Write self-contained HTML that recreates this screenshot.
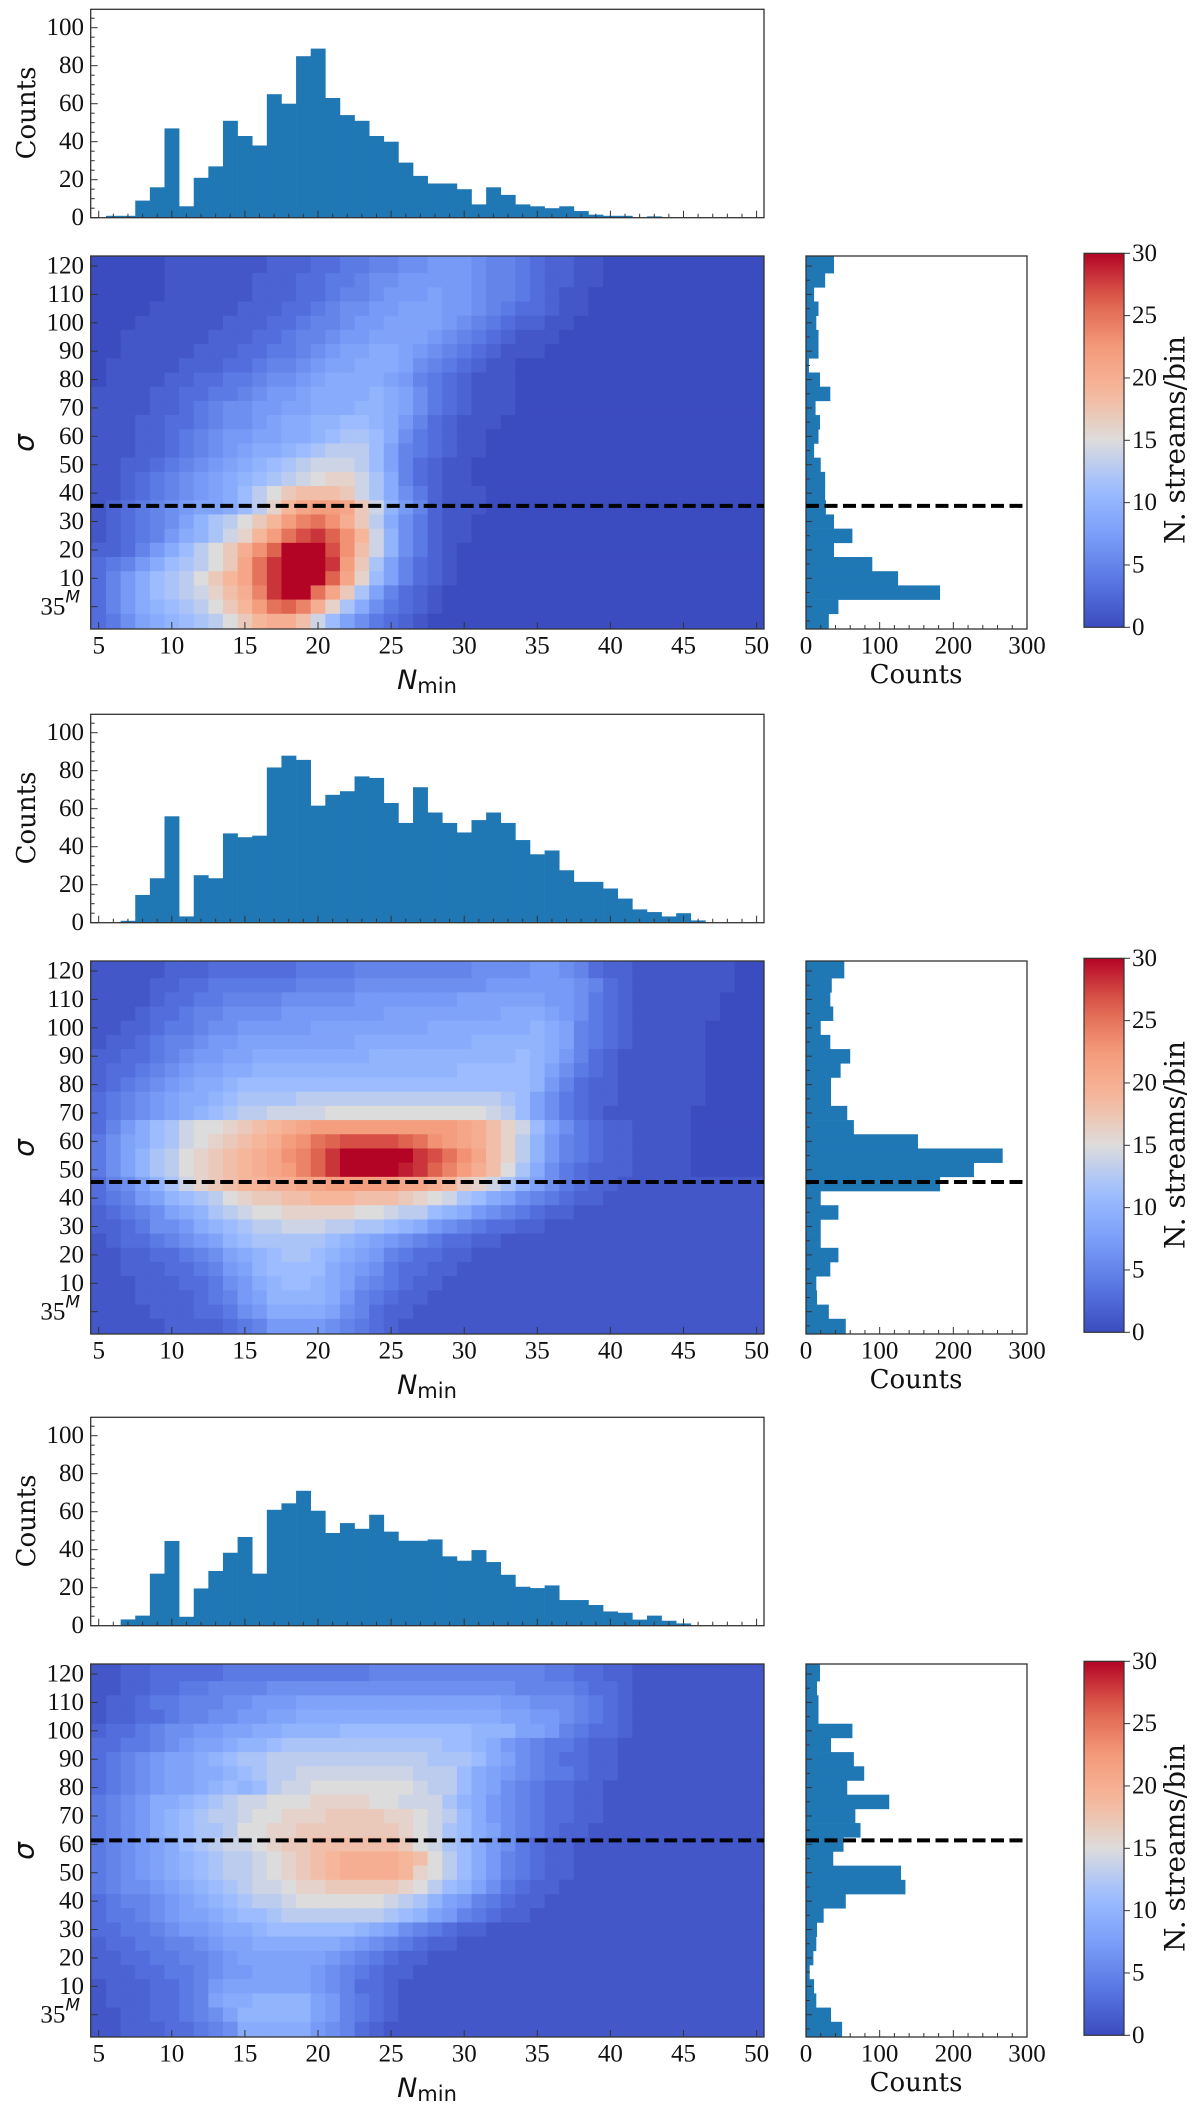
<!DOCTYPE html>
<html><head><meta charset="utf-8"><style>
html,body{margin:0;padding:0;background:#fff;}
svg{display:block;}
</style></head><body>
<svg id="fig" width="1200" height="2108" viewBox="0 0 1200 2108" xmlns="http://www.w3.org/2000/svg"></svg>
<script>
// ---------- DATA ----------
const nValues = [5,6,7,8,9,10,11,12,13,14,15,16,17,18,19,20,21,22,23,24,25,26,27,28,29,30,31,32,33,34,35,36,37,38,39,40,41,42,43,44,45,46,47,48,49,50];
const sigmaRows = [120,115,110,105,100,95,90,85,80,75,70,65,60,55,50,45,40,35,30,25,20,15,10,5,0,-5];
const yTickValues = [120,110,100,90,80,70,60,50,40,30,20,10,0];
const yTickLabels = ["120","110","100","90","80","70","60","50","40","30","20","10","35M"];
const xTickValues = [5,10,15,20,25,30,35,40,45,50];
const countTicks = [0,20,40,60,80,100];
const sideTicks = [0,100,200,300];
const cbarTicks = [0,5,10,15,20,25,30];

const topCounts1 = [0,1,1,9,16,47,6,21,27,51,43,38,65,60,85,89,63,54,51,43,40,29,22,18,18,15,7,16,12,7,6,5,6,3.5,1.6,1,1,0,0.7,0,0,0,0,0,0,0];
const topCounts2 = [0,0,1,14.6,23.4,56,3.3,25,23.4,47,45,45.8,81.7,87.9,85.7,61.6,67.3,69.2,77,76.2,63,52.5,71.3,58,52.5,47.5,54,58,52.5,43.5,36,38,27.6,21.5,21.5,18,12.7,7,5.6,3.3,5,1.2,0,0,0,0];
const topCounts3 = [0,0,3.3,5.3,27.4,44.6,4.7,19.6,28.8,38.4,46.7,27.4,61,64.4,71,60.5,48.8,54,51,58.4,49.5,44.7,44.7,45.4,36.5,34.2,39.8,33.5,26.8,20.5,19.8,21.2,13.5,13.5,10.9,7.5,6.8,3.2,5.3,2.6,1.2,0,0,0,0,0];

const sideCounts1 = [38,26,11,17,14,17,17,4,19,33,13,19,17,11,20,26,26,27,38,63,38,90,125,182,44,31];
const sideCounts2 = [52,35,33,37,20,33,60,47,34,34,56,65,152,267,228,182,20,44,20,20,44,33,14,15,31,54];
const sideCounts3 = [19,15,17,17,63,34,65,79,56,113,67,74,51,37,129,135,54,24,15,14,10,5,11,14,34,49];

const sigmaCut1 = 35.5;
const sigmaCut2 = 45.7;
const sigmaCut3 = 61.4;

// heatmap rows (sigma 120 -> -5), columns N=5..50, base-36 digits (0..30)
const heat1 = [
"0000011111 1122233445 5667776554 3221100000 000000",
"0000011111 1222334456 6777776554 3221100000 000000",
"0000011111 1222334556 7778776554 3211000000 000000",
"0000111111 2223345667 7888776543 3211000000 000000",
"0001111112 2233455677 8888765432 2110000000 000000",
"0011111122 2334556778 8887654321 1100000000 000000",
"0011111222 3344567889 9876543211 1000000000 000000",
"0111112223 3455678899 9865432110 0000000000 000000",
"0111122334 4566789999 8754321110 0000000000 000000",
"1111223344 567789999a 9864321110 0000000000 000000",
"1111223456 67788999aa 9864321110 0000000000 000000",
"1112233456 67899aabba 9753211100 0000000000 000000",
"1112234567 78899abccb 9643211000 0000000000 000000",
"1112234567 899abcdddb 8543211000 0000000000 000000",
"1122345678 9abcdeeedb 8532110000 0000000000 000000",
"1123456789 abcdefggec 9532110000 0000000000 000000",
"1123456789 bdfhiiihec 9642111000 0000000000 000000",
"1234567889 bdgjlmmlhe a752111000 0000000000 000000",
"1234568acd fhjmopnkhd 9642110000 0000000000 000000",
"1234579ace gjmprsqnje a642110000 0000000000 000000",
"223579bdfh knquuurnie a642100000 0000000000 000000",
"34579bcdfh lpsuuusmhc 8532100000 0000000000 000000",
"3579bcdfhj lpsuuuqlgb 8532100000 0000000000 000000",
"3579bcdegi kosuuplhc8 5321000000 0000000000 000000",
"3579abcdfh jmpqokgc96 4321000000 0000000000 000000",
"34689abcdf hjkkieb864 3210000000 0000000000 000000"
];
const heat2 = [
"1111122233 3333444455 5555556666 7765322111 111100",
"1111223344 4444555566 6666666777 7776532111 111100",
"1111233445 5556666677 7777788888 8776432111 111000",
"1112334556 6667777777 8888888899 9876432111 111000",
"1122344566 7777788888 8889999999 a985432111 110000",
"1223455677 8888888899 999999aaaa a985432111 110000",
"2233456778 899999999a aaaaaaaaab a975321111 110000",
"2334567889 9aaaaaaaaa aaaaabbbbb a864321111 110000",
"234567899a bbbbbbbbbb bbbbbbbbbb a753221111 110000",
"34567899ab ccccdddddd ddddddddcb 8643221111 110000",
"3456789abc ddeeeeffff fffffffedb 8643211111 100000",
"3579bceffg hijklmmmmm mmmmmlkige b864322111 100000",
"4689bcefgh ijkmnpqrrr rqpnmlkigd a754322111 100000",
"468acdfghi jklnoqsuuu uusrpnligd a754322111 100000",
"468acdfghi jklmoqsuuu utsqomkifc 9643222111 100000",
"3568aceghi jjkkllmmmm mllkjhgeca 8643221111 111111",
"34578abcdf ghhiijjjii ihgfecb986 5432211111 111111",
"2345689acd effgggggff eddba97654 3221111111 111111",
"22346679ab cddeeeddcc ba97654332 2111111111 111111",
"123345678a bcccccba98 7654332211 1111111111 111111",
"1122334568 9abccba987 5433221111 1111111111 111111",
"1122233457 8abbbb9876 4332211111 1111111111 111111",
"1112223346 79abba9865 4322111111 1111111111 111111",
"1112222345 78aaaa9754 3221111111 1111111111 111111",
"1111222334 6799998653 2211111111 1111111111 111111",
"1111122223 4577776543 2111111111 1111111111 111111"
];
const heat3 = [
"1122333334 4444444445 5555555555 5443322111 111111",
"1122334455 5566666666 6666666665 5554332111 111111",
"1223445556 6777888888 8888888877 6665432111 111111",
"1223345566 7788999999 9999999988 7765432111 111111",
"2334566778 899aaaabbb bbbbbbaaa8 8754332111 111111",
"3344567889 aabccccccc ccccbba976 5443221111 111111",
"34567889ab ccdddddddd dddcccb986 5433221111 111111",
"345678899a bcddeeeeee eedddb9876 5443221111 111111",
"34567889ab abdeefffff ffeddb9865 4332211111 111111",
"456799abcd eefffggggf feeeca9765 4332211111 111111",
"45679abcdd effggghhhh ggfedb9765 4332211111 111111",
"45679abccd ffgghhhhhh hgfecb9865 4322111111 111111",
"456789bcde efghhiiiii ihfecb9764 3221111111 111111",
"456789abcd defghijkkk kjifdb9754 3221111111 111111",
"456789abcd defghijkkk kjgfdb9754 3221111111 111111",
"4566789abc deefgghhhh hgfdba8643 2211111111 111111",
"34556789ab cddeffffff edca875432 2111111111 111111",
"344567889a bbcddddddd cba8754322 1111111111 111111",
"3344567789 9abbbbbba9 8654322111 1111111111 111111",
"2334455678 8999999876 5432211111 1111111111 111111",
"2233445567 8888887654 3221111111 1111111111 111111",
"2223344567 7888876543 2211111111 1111111111 111111",
"1222334578 8888876533 2111111111 1111111111 111111",
"1222334589 9aaaa87543 2111111111 1111111111 111111",
"1122334568 aaaaa87543 2111111111 1111111111 111111",
"1122233456 9999976532 1111111111 1111111111 111111"
];

// ---------- HELPERS ----------
const NS = "http://www.w3.org/2000/svg";
const svg = document.getElementById('fig');
function el(tag, attrs, parent){
  const e = document.createElementNS(NS, tag);
  for (const k in attrs) e.setAttribute(k, attrs[k]);
  (parent||svg).appendChild(e);
  return e;
}
const CW = [[0,[59,76,192]],[0.125,[89,119,227]],[0.25,[123,159,249]],[0.375,[158,190,255]],[0.5,[221,220,220]],[0.625,[246,184,156]],[0.75,[244,154,123]],[0.875,[222,96,77]],[1,[180,4,38]]];
function cmap(t){
  t = Math.max(0, Math.min(1, t));
  for (let i=0;i<CW.length-1;i++){
    const a=CW[i], b=CW[i+1];
    if (t<=b[0]){
      const f=(t-a[0])/(b[0]-a[0]);
      return 'rgb('+a[1].map((v,j)=>Math.round(v+(b[1][j]-v)*f)).join(',')+')';
    }
  }
  return 'rgb(180,4,38)';
}
// axis functions
const AX_L = 90.7, AX_R = 764;
function xN(v){ return 98.7 + (v-5)*14.62; }
function yCount(v, oy){ return oy + 217.7 - v*1.9; }
function ySig(v, oy){ return oy + 606.7 - v*2.839; }
function xSide(c){ return 806 + c*221/300; }
function yCbar(v, oy){ return oy + 627.3 - v*(374/30); }
const BLUE = '#1f77b4', SPINE='#333';
const SERIF = '"DejaVu Serif","Liberation Serif",serif';
const TSERIF = '"Liberation Serif","DejaVu Serif",serif';

const panels = [
  {oy:0, top:topCounts1, side:sideCounts1, heat:heat1, cut:sigmaCut1},
  {oy:705, top:topCounts2, side:sideCounts2, heat:heat2, cut:sigmaCut2},
  {oy:1408, top:topCounts3, side:sideCounts3, heat:heat3, cut:sigmaCut3}
];

panels.forEach((P, pi) => {
  const oy = P.oy;
  const g = el('g', {});
  
  

  // ---- top histogram ----
  const th = el('g', {}, g);
  
  
  const tTop = oy + 9.3, tBot = oy + 217.7;
  P.top.forEach((v, i) => {
    if (v <= 0) return;
    const n = nValues[i];
    const r = el('rect', {x: xN(n-0.5), y: yCount(v, oy), width: xN(n+0.5)-xN(n-0.5)+0.3, height: yCount(0,oy)-yCount(v,oy), fill: BLUE}, th);
    
    
  });
  el('rect', {x:AX_L, y:tTop, width:AX_R-AX_L, height:tBot-tTop, fill:'none', stroke:SPINE, 'stroke-width':1.3}, th);
  for (let v=0; v<=110; v+=5){
    const y = yCount(v, oy); if (y < tTop) continue;
    const major = v % 20 === 0;
    el('line', {x1:AX_L, x2:AX_L+(major?7:4), y1:y, y2:y, stroke:SPINE, 'stroke-width':1}, th);
  }
  countTicks.forEach(v => {
    const t = el('text', {x:84, y:yCount(v,oy), 'text-anchor':'end', 'dominant-baseline':'central', 'font-family':TSERIF, 'font-size':25, fill:'#111'}, th);
    t.textContent = v;
    
    
  });
  for (let v=5; v<=50; v+=1){
    const x = xN(v);
    el('line', {x1:x, x2:x, y1:tBot, y2:tBot-(v%5===0?7:4), stroke:SPINE, 'stroke-width':1}, th);
  }
  const cl = el('text', {x:0, y:0, transform:'translate(27,'+(oy+113)+') rotate(-90)', 'text-anchor':'middle', 'dominant-baseline':'central', 'font-family':SERIF, 'font-size':26, fill:'#111'}, th);
  cl.textContent = 'Counts';
  
  

  // ---- heatmap ----
  const hm = el('g', {}, g);
  
  
  const hTop = oy + 256, hBot = oy + 629;
  P.heat.forEach((rowStr, ri) => {
    const s = rowStr.replace(/ /g, '');
    const sig = sigmaRows[ri];
    let y0 = ySig(sig+2.5, oy), y1 = ySig(sig-2.5, oy);
    if (ri === 0) y0 = hTop;
    if (ri === sigmaRows.length-1) y1 = hBot;
    for (let ci=0; ci<nValues.length; ci++){
      const n = nValues[ci];
      const val = parseInt(s[ci] || '0', 36);
      let x0 = xN(n-0.5), x1 = xN(n+0.5);
      if (ci === 0) x0 = AX_L;
      if (ci === nValues.length-1) x1 = AX_R;
      const c = el('rect', {x:x0, y:y0, width:x1-x0+0.4, height:y1-y0+0.4, fill:cmap(val/30)}, hm);
      
      
    }
  });
  el('rect', {x:AX_L, y:hTop, width:AX_R-AX_L, height:hBot-hTop, fill:'none', stroke:SPINE, 'stroke-width':1.3}, hm);
  yTickValues.forEach((v, i) => {
    const y = ySig(v, oy);
    el('line', {x1:AX_L, x2:AX_L+7, y1:y, y2:y, stroke:SPINE, 'stroke-width':1}, hm);
    const lab = yTickLabels[i];
    const t = el('text', {x:84, y:y, 'text-anchor':'end', 'dominant-baseline':'central', 'font-family':TSERIF, 'font-size':25, fill:'#111'}, hm);
    if (lab === '35M'){
      t.setAttribute('x', 80);
      const a = el('tspan', {}, t); a.textContent = '35';
      const b = el('tspan', {dy:-9, 'font-size':17, 'font-style':'italic', 'font-family':'"DejaVu Sans",sans-serif'}, t); b.textContent = 'M';
    } else t.textContent = lab;
    
    
  });
  xTickValues.forEach(v => {
    const x = xN(v);
    el('line', {x1:x, x2:x, y1:hBot, y2:hBot-7, stroke:SPINE, 'stroke-width':1}, hm);
    const t = el('text', {x:x, y:oy+646, 'text-anchor':'middle', 'dominant-baseline':'central', 'font-family':TSERIF, 'font-size':25, fill:'#111'}, hm);
    t.textContent = v;
    
    
  });
  const xl = el('text', {x:427, y:oy+680, 'text-anchor':'middle', 'dominant-baseline':'central', 'font-family':'"DejaVu Sans",sans-serif', 'font-size':27, fill:'#111'}, hm);
  const xa = el('tspan', {'font-style':'italic'}, xl); xa.textContent = 'N';
  const xb = el('tspan', {dy:6, 'font-size':21}, xl); xb.textContent = 'min';
  
  
  const yl = el('text', {x:0, y:0, transform:'translate(24,'+(oy+443)+') rotate(-90)', 'text-anchor':'middle', 'dominant-baseline':'central', 'font-family':'"DejaVu Sans",sans-serif', 'font-style':'italic', 'font-size':28, fill:'#111'}, hm);
  yl.textContent = 'σ';
  
  
  const dl = el('line', {x1:AX_L, x2:AX_R, y1:ySig(P.cut,oy), y2:ySig(P.cut,oy), stroke:'#000', 'stroke-width':4, 'stroke-dasharray':'13 5.5'}, hm);
  
  

  // ---- side histogram ----
  const sh = el('g', {}, g);
  
  
  P.side.forEach((v, i) => {
    const sig = sigmaRows[i];
    let y0 = ySig(sig+2.5, oy), y1 = ySig(sig-2.5, oy);
    if (i === 0) y0 = hTop;
    if (i === sigmaRows.length-1) y1 = hBot;
    const r = el('rect', {x:xSide(0), y:y0, width:xSide(v)-xSide(0), height:y1-y0+0.3, fill:BLUE}, sh);
    
    
  });
  el('rect', {x:806, y:hTop, width:221, height:hBot-hTop, fill:'none', stroke:SPINE, 'stroke-width':1.3}, sh);
  for (let v=-5; v<=120; v+=5){
    const y = ySig(v, oy);
    el('line', {x1:806, x2:806+(v%10===0?6:4), y1:y, y2:y, stroke:SPINE, 'stroke-width':1}, sh);
  }
  for (let v=0; v<=300; v+=20){
    const x = xSide(v);
    el('line', {x1:x, x2:x, y1:hBot, y2:hBot-(v%100===0?7:4), stroke:SPINE, 'stroke-width':1}, sh);
  }
  sideTicks.forEach(v => {
    const t = el('text', {x:xSide(v), y:oy+646, 'text-anchor':'middle', 'dominant-baseline':'central', 'font-family':TSERIF, 'font-size':25, fill:'#111'}, sh);
    t.textContent = v;
    
    
  });
  const sl = el('text', {x:916, y:oy+675, 'text-anchor':'middle', 'dominant-baseline':'central', 'font-family':SERIF, 'font-size':26, fill:'#111'}, sh);
  sl.textContent = 'Counts';
  
  
  const dl2 = el('line', {x1:806, x2:1027, y1:ySig(P.cut,oy), y2:ySig(P.cut,oy), stroke:'#000', 'stroke-width':4, 'stroke-dasharray':'13 5.5'}, sh);
  
  

  // ---- colorbar ----
  const cb = el('g', {}, g);
  
  
  const gid = 'cbg' + pi;
  const defs = el('defs', {}, cb);
  const lg = el('linearGradient', {id:gid, x1:0, y1:1, x2:0, y2:0}, defs);
  for (let k=0; k<=20; k++){
    el('stop', {offset:(k/20), 'stop-color':cmap(k/20)}, lg);
  }
  el('rect', {x:1084, y:yCbar(30,oy), width:40, height:yCbar(0,oy)-yCbar(30,oy), fill:'url(#'+gid+')', stroke:SPINE, 'stroke-width':1.2}, cb);
  cbarTicks.forEach(v => {
    const y = yCbar(v, oy);
    el('line', {x1:1124, x2:1130, y1:y, y2:y, stroke:SPINE, 'stroke-width':1}, cb);
    const t = el('text', {x:1132, y:y, 'text-anchor':'start', 'dominant-baseline':'central', 'font-family':TSERIF, 'font-size':25, fill:'#111'}, cb);
    t.textContent = v;
    
    
  });
  const cbl = el('text', {x:0, y:0, transform:'translate(1175,'+(oy+440)+') rotate(-90)', 'text-anchor':'middle', 'dominant-baseline':'central', 'font-family':SERIF, 'font-size':28, fill:'#111'}, cb);
  cbl.textContent = 'N. streams/bin';
  
  
});
</script>
</body></html>
